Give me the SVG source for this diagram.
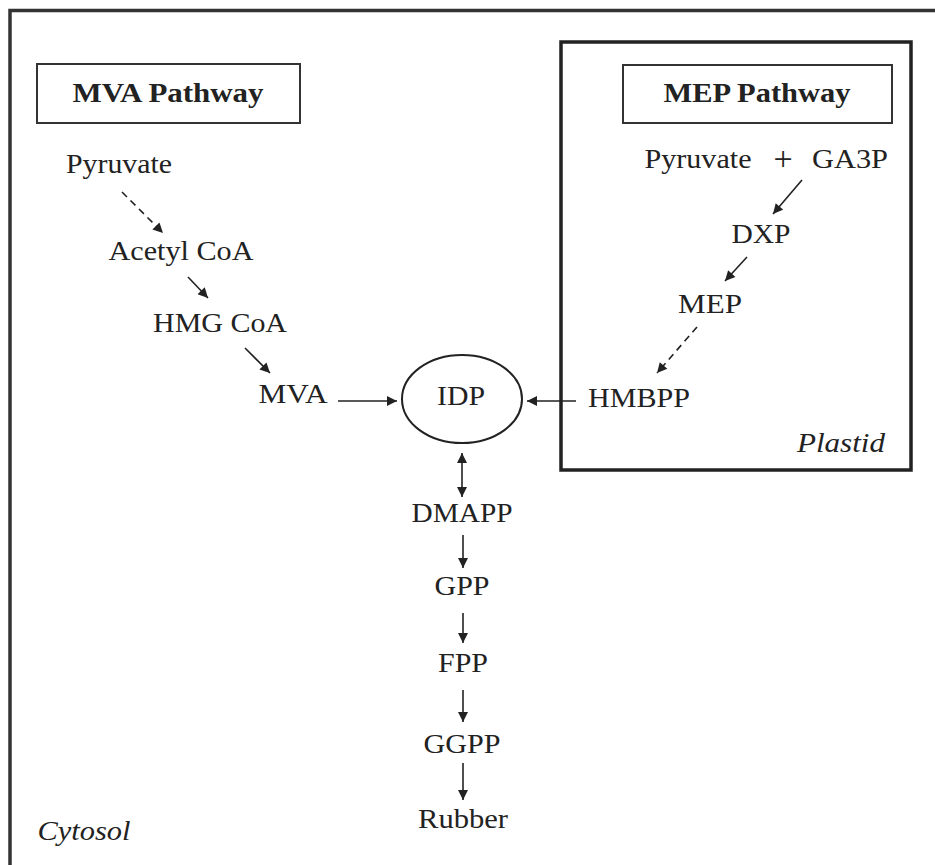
<svg xmlns="http://www.w3.org/2000/svg" width="935" height="865" viewBox="0 0 935 865">
<style>
text{font-family:"Liberation Serif","Times New Roman",serif;font-size:28px;fill:#222;text-anchor:middle}
.b{font-weight:bold}
.i{font-style:italic}
.c{stroke:#222;stroke-width:1.6;fill:none}
.d{stroke-dasharray:7,5}
.box{fill:none;stroke:#333;stroke-width:2}
</style>
<defs>
<marker id="ah" viewBox="0 0 10 10" refX="10" refY="5" markerWidth="11" markerHeight="10" markerUnits="userSpaceOnUse" orient="auto-start-reverse">
<path d="M0,0 L10,5 L0,10 z" fill="#222"/>
</marker>
</defs>
<rect width="935" height="865" fill="#fff"/>
<path d="M10,865 V10.5 H935" fill="none" stroke="#333" stroke-width="3.5"/>
<g id="plastid">
<rect x="561" y="42" width="350" height="428" fill="none" stroke="#222" stroke-width="3.5"/>
<text class="i" x="841" y="452" textLength="88" lengthAdjust="spacingAndGlyphs">Plastid</text>
</g>
<g id="cytosol"><text class="i" x="84" y="840" textLength="93" lengthAdjust="spacingAndGlyphs">Cytosol</text></g>
<g id="mva-title"><rect class="box" x="37" y="64" width="263" height="59"/><text class="b" x="168" y="102" textLength="191" lengthAdjust="spacingAndGlyphs">MVA Pathway</text></g>
<g id="mep-title"><rect class="box" x="623" y="65" width="269" height="58"/><text class="b" x="757" y="102" textLength="187" lengthAdjust="spacingAndGlyphs">MEP Pathway</text></g>
<g id="pyruvate-mva"><text x="119" y="173" textLength="106" lengthAdjust="spacingAndGlyphs">Pyruvate</text></g>
<g id="acetylcoa"><text x="181" y="260" textLength="145" lengthAdjust="spacingAndGlyphs">Acetyl CoA</text></g>
<g id="hmgcoa"><text x="220" y="332" textLength="134" lengthAdjust="spacingAndGlyphs">HMG CoA</text></g>
<g id="mva"><text x="293" y="403" textLength="69" lengthAdjust="spacingAndGlyphs">MVA</text></g>
<g id="pyruvate-mep"><text x="698" y="168" textLength="107" lengthAdjust="spacingAndGlyphs">Pyruvate</text></g>
<g id="plus"><text x="783" y="170" style="font-size:34px">+</text></g>
<g id="ga3p"><text x="850" y="168" textLength="76" lengthAdjust="spacingAndGlyphs">GA3P</text></g>
<g id="dxp"><text x="761" y="243" textLength="59" lengthAdjust="spacingAndGlyphs">DXP</text></g>
<g id="mep"><text x="710" y="313" textLength="64" lengthAdjust="spacingAndGlyphs">MEP</text></g>
<g id="hmbpp"><text x="639" y="407" textLength="102" lengthAdjust="spacingAndGlyphs">HMBPP</text></g>
<g id="idp"><ellipse cx="462" cy="399" rx="60" ry="44" fill="none" stroke="#222" stroke-width="2"/><text x="461" y="405" textLength="48" lengthAdjust="spacingAndGlyphs">IDP</text></g>
<g id="dmapp"><text x="462" y="522" textLength="101" lengthAdjust="spacingAndGlyphs">DMAPP</text></g>
<g id="gpp"><text x="462" y="595" textLength="55" lengthAdjust="spacingAndGlyphs">GPP</text></g>
<g id="fpp"><text x="463" y="672" textLength="50" lengthAdjust="spacingAndGlyphs">FPP</text></g>
<g id="ggpp"><text x="462" y="753" textLength="77" lengthAdjust="spacingAndGlyphs">GGPP</text></g>
<g id="rubber"><text x="463" y="828" textLength="90" lengthAdjust="spacingAndGlyphs">Rubber</text></g>
<g id="connectors">
<line class="c d" x1="122" y1="192" x2="163" y2="233" marker-end="url(#ah)"/>
<line class="c" x1="188" y1="277" x2="208" y2="298" marker-end="url(#ah)"/>
<line class="c" x1="245" y1="348" x2="270" y2="373" marker-end="url(#ah)"/>
<line class="c" x1="338" y1="401" x2="397" y2="401" marker-end="url(#ah)"/>
<line class="c" x1="802" y1="180" x2="773" y2="214" marker-end="url(#ah)"/>
<line class="c" x1="747" y1="257" x2="725" y2="281" marker-end="url(#ah)"/>
<line class="c d" x1="697" y1="327" x2="657" y2="373" marker-end="url(#ah)"/>
<line class="c" x1="576" y1="401" x2="527" y2="401" marker-end="url(#ah)"/>
<line class="c" x1="462" y1="453" x2="462" y2="497" marker-start="url(#ah)" marker-end="url(#ah)"/>
<line class="c" x1="463" y1="535" x2="463" y2="568" marker-end="url(#ah)"/>
<line class="c" x1="463" y1="613" x2="463" y2="643" marker-end="url(#ah)"/>
<line class="c" x1="463" y1="690" x2="463" y2="722" marker-end="url(#ah)"/>
<line class="c" x1="463" y1="763" x2="463" y2="800" marker-end="url(#ah)"/>
</g>
</svg>
